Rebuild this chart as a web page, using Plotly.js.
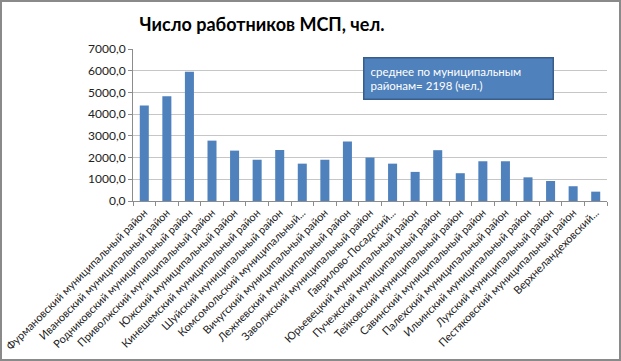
<!DOCTYPE html>
<html>
<head>
<meta charset="utf-8">
<script src="https://cdn.plot.ly/plotly-3.0.1.min.js"></script>
<style>
html,body{margin:0;padding:0;background:#fff;}
#wrap{position:relative;width:621px;height:361px;}
#chart{width:621px;height:361px;}
#frame{position:absolute;left:0;top:0;width:621px;height:361px;box-sizing:border-box;border:2px solid #8a8a8a;pointer-events:none;}
</style>
</head>
<body>
<div id="wrap"><div id="chart"></div><div id="frame"></div></div>
<script>
const districts = [
  "Фурмановский муниципальный район",
  "Ивановский муниципальный район",
  "Родниковский муниципальный район",
  "Приволжский муниципальный район",
  "Южский муниципальный район",
  "Кинешемский муниципальный район",
  "Шуйский муниципальный район",
  "Комсомольский муниципальный...",
  "Вичугский муниципальный район",
  "Лежневский муниципальный район",
  "Заволжский муниципальный район",
  "Гаврилово-Посадский...",
  "Юрьевецкий муниципальный район",
  "Пучежский муниципальный район",
  "Тейковский муниципальный район",
  "Савинский муниципальный район",
  "Палехский муниципальный район",
  "Ильинский муниципальный район",
  "Лухский муниципальный район",
  "Пестяковский муниципальный район",
  "Верхнеландеховский..."
];
const workers = [4400, 4820, 5950, 2780, 2320, 1900, 2350, 1720, 1900, 2740, 2000, 1720, 1340, 2340, 1280, 1830, 1830, 1090, 920, 680, 430];
const chartTitle = "Число работников МСП, чел.";
const noteText = "среднее по муниципальным<br>районам= 2198 (чел.)";
const yTicks = [0, 1000, 2000, 3000, 4000, 5000, 6000, 7000];

const font = "Lato, 'Open Sans', sans-serif";

Plotly.newPlot("chart", [{
  type: "bar",
  x: districts,
  y: workers,
  marker: {color: "#4f81bd", line: {width: 0}},
  hoverinfo: "none"
}], {
  width: 621, height: 361,
  margin: {l: 133, r: 14, t: 49, b: 160},
  paper_bgcolor: "#fff", plot_bgcolor: "#fff",
  separators: ", ",
  bargap: 0.6,
  showlegend: false,
  font: {family: font, size: 11, color: "#222"},
  title: {text: "<b>" + chartTitle + "</b>", font: {family: font, size: 18, color: "#000"},
          x: 262/621, xanchor: "center", xref: "container", y: 1 - 25/361, yanchor: "middle", yref: "container"},
  xaxis: {
    type: "category", tickangle: -45, automargin: false,
    showline: true, linecolor: "#8c8c8c", linewidth: 1,
    ticks: "outside", tickson: "boundaries", ticklen: 4, tickcolor: "#8c8c8c",
    tickfont: {family: font, size: 11, color: "#222"},
    showgrid: false
  },
  yaxis: {
    range: [0, 7000], tickvals: yTicks, tickformat: ".1f", automargin: false,
    showline: true, linecolor: "#8c8c8c", linewidth: 1,
    ticks: "outside", ticklen: 4, tickcolor: "#8c8c8c",
    showgrid: true, gridcolor: "#c6c6c6", gridwidth: 1,
    zeroline: false,
    tickfont: {family: font, size: 12, color: "#222"}
  },
  annotations: [{
    xref: "paper", yref: "paper",
    x: (363-133)/474, y: (201-57)/152, xanchor: "left", yanchor: "top",
    text: noteText, showarrow: false, align: "left", valign: "middle",
    width: 176, height: 28, borderpad: 6,
    bgcolor: "#4f81bd", bordercolor: "#385d8a", borderwidth: 1.5,
    font: {family: font, size: 11.5, color: "#fff"}
  }]
}, {staticPlot: true});
</script>
</body>
</html>
